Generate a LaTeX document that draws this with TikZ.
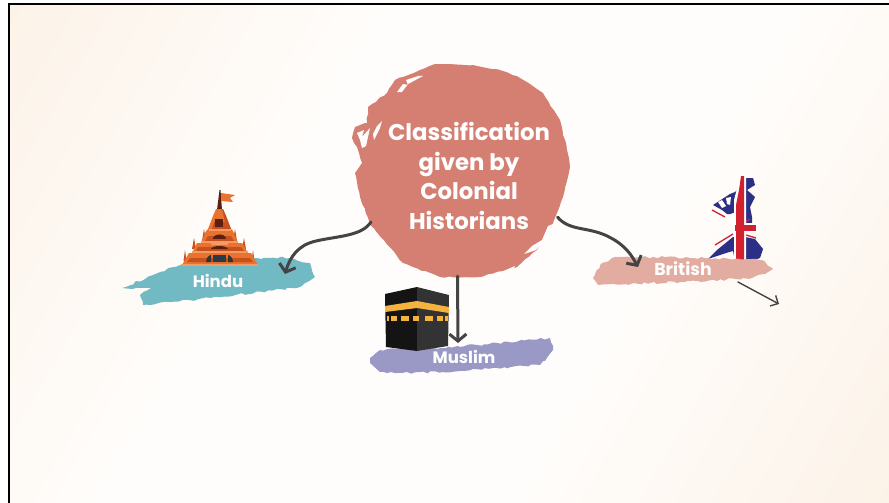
\documentclass[tikz,border=0pt]{standalone}
\usepackage{fontspec}
\setmainfont{Poppins}
\usetikzlibrary{arrows.meta,decorations.pathmorphing}
\definecolor{peach}{HTML}{FBF0E3}
\definecolor{paper}{HTML}{FFFDFB}
\definecolor{rosec}{HTML}{D57F73}
\definecolor{tealb}{HTML}{72BAC3}
\definecolor{lilacb}{HTML}{9A99C6}
\definecolor{pinkb}{HTML}{E3ACA0}
\definecolor{ink}{HTML}{444444}
\definecolor{tor}{HTML}{E9722F}
\definecolor{tdk}{HTML}{C4511E}
\definecolor{tlt}{HTML}{F59A62}
\definecolor{tbr}{HTML}{5A1F10}
\definecolor{tgy}{HTML}{2A3A48}
\definecolor{gold}{HTML}{F4B33F}
\definecolor{ukb}{HTML}{2B2F86}
\definecolor{ukr}{HTML}{D2202F}
\pgfdeclareverticalshading{bgs}{100bp}{color(0bp)=(peach); color(10bp)=(peach); color(38bp)=(paper); color(62bp)=(paper); color(90bp)=(peach); color(100bp)=(peach)}
\tikzset{
  lbl/.style={text=white,font=\bfseries,inner sep=0pt},
  brush/.style={decorate,decoration={random steps,segment length=4pt,amplitude=1.2pt}},
  soft brush/.style={decorate,decoration={random steps,segment length=5pt,amplitude=0.7pt}},
  conn/.style={draw=ink,line width=3pt,line cap=round,-{Straight Barb[length=7pt,width=17pt,line width=3pt]}},
  thin conn/.style={draw=ink,line width=1.4pt,line cap=round,-{Straight Barb[length=6pt,width=12pt,line width=1.4pt]}}
}
\begin{document}
\begin{tikzpicture}[x=1pt,y=-1pt]
\useasboundingbox (0,0) rectangle (889,503);
\fill[white] (0,0) rectangle (889,503);
% background
\shade[shading=bgs,shading angle=60] (9,4) rectangle (889,503);
\draw[black,line width=1.6pt] (9,503) -- (9,4) -- (889,4);
% main blob
\fill[rosec,soft brush] (435,64) -- (473,65) -- (503,71) -- (520,78) -- (543,93) -- (560,120) -- (567,150) -- (570,167) -- (563,197) -- (557,213) -- (553,223) -- (537,250) -- (517,267) -- (480,277) -- (440,277) -- (403,263) -- (372,227) -- (360,197) -- (355,173) -- (362,163) -- (357,147) -- (352,138) -- (355,127) -- (367,123) -- (368,107) -- (387,93) -- (395,80) -- (420,70) -- cycle;
\fill[paper] (397,92) -- (403,84) -- (408,85) -- (406,80) -- (418,76) -- (423,76) -- (408,84) -- (402,92) -- cycle;
\fill[paper] (382,121) -- (380,128) -- (374,140) -- (373,134) -- (377,126) -- cycle;
\fill[paper] (357,133) -- (364,130) -- (362,137) -- (370,128) -- (366,146) -- (362,148) -- (360,140) -- cycle;
\fill[paper] (548,226) -- (553,224) -- (545,240) -- (536,250) -- (524,254) -- (532,246) -- (542,240) -- cycle;
\fill[paper] (501,272) -- (515,266) -- (512,272) -- cycle;
\node[circle,minimum size=210pt,inner sep=0pt] (hub) at (463,171) {};
\node[lbl,align=center,font=\bfseries\fontsize{22.8}{29.5}\selectfont] (title) at (469,176) {Classification\\given by\\Colonial\\Historians};
% British map
\fill[ukb] (744,178) -- (753,178) -- (755,185) -- (747,190) -- (755,197) -- (750,207) -- (752,217) -- (752,225) -- (735,225) -- (735,192) -- (742,185) -- cycle;
\fill[ukb] (713,205) -- (730,194) -- (735,192) -- (735,215) -- (727,214) -- (722,210) -- cycle;
\fill[ukb] (733,237) -- (745,237) -- (755,239) -- (763,249) -- (760,258) -- (745,263) -- (735,261) -- (733,251) -- (726,253) -- (708,259) -- (717,250) -- cycle;
\fill[white] (718,202) -- (722,200) -- (726,206) -- (722,208) -- cycle;
\fill[white] (726,198) -- (731,197) -- (730,205) -- (727,204) -- cycle;
\fill[white] (728,215) -- (736,212) -- (736,225) -- (730,226) -- cycle;
\draw[ukr,line width=1.3pt] (712,210) -- (725,217);
\draw[ukr,line width=1.3pt] (715,245) -- (733,234);
\draw[ukr,line width=1.3pt] (745,222) -- (750,219);
\draw[ukr,line width=1.3pt] (746,235) -- (756,238);
\fill[white] (740,177) -- (746,177) -- (746,263) -- (734,263) -- (734,200) -- cycle;
\fill[white] (733,223) rectangle (757,233);
\fill[ukr] (741,176) -- (744,176) -- (744,263) -- (736,263) -- (736,205) -- (739,190) -- cycle;
\fill[ukr] (735,225) rectangle (756,231);
% brush strokes
\fill[tealb,brush] (122,288) -- (153,275) -- (180,265) -- (257,258) -- (283,257) -- (310,263) -- (315,277) -- (300,287) -- (210,298) -- (143,305) -- (140,295) -- (153,288) -- cycle;
\fill[lilacb,brush] (370,358) -- (380,350) -- (433,348) -- (477,345) -- (550,338) -- (553,350) -- (540,365) -- (493,368) -- (443,372) -- (403,373) -- (380,372) -- (370,363) -- cycle;
\fill[pinkb,brush] (593,278) -- (600,265) -- (612,258) -- (642,257) -- (708,258) -- (762,260) -- (773,269) -- (765,274) -- (752,278) -- (685,282) -- (598,285) -- cycle;
% temple
\fill[tbr] (219.5,190) -- (220.5,190) -- (222,210) -- (217,210) -- cycle;
\fill[tor] (221,193) -- (235,195) -- (230,198) -- (233,202) -- (221,201) -- cycle;
\fill[tdk] (185,250) -- (186.5,261) -- (183.5,261) -- cycle;
\fill[tdk] (194,238) -- (196,249) -- (192,249) -- cycle;
\fill[tdk] (204,229) -- (206,241) -- (202,241) -- cycle;
\fill[tdk] (235,229) -- (237,241) -- (233,241) -- cycle;
\fill[tdk] (244,238) -- (246,249) -- (242,249) -- cycle;
\fill[tdk] (253,250) -- (254.5,261) -- (251.5,261) -- cycle;
\fill[tor] (216,209) -- (223,209) -- (226,216) -- (231,229) -- (233,231) -- (238,243) -- (242,243) -- (248,253) -- (251,253) -- (258,265) -- (182,265) -- (189,253) -- (192,253) -- (197,243) -- (201,243) -- (206,231) -- (208,229) -- (213,216) -- cycle;
\fill[tdk] (222,209) -- (223,209) -- (226,216) -- (231,229) -- (212,229) -- (214,222) -- (225,222) -- cycle;
\fill[tdk] (208,236) -- (231,236) -- (234,241) -- (205,241) -- cycle;
\fill[tdk] (198,247) -- (241,247) -- (244,251) -- (196,251) -- cycle;
\fill[tdk] (190,258) -- (250,258) -- (253,262) -- (187,262) -- cycle;
\fill[tlt] (209,229) rectangle (231,231);
\fill[tlt] (201,241) rectangle (238,243);
\fill[tlt] (192,251) rectangle (248,253);
\fill[tlt] (181,264) rectangle (258,266);
\fill[tlt] (211,241) rectangle (228,245);
\fill[tbr] (215,219) rectangle (223,227);
\fill[tbr] (213,239) .. controls (213,233) and (226,233) .. (226,239) -- cycle;
\fill[tbr] (211,249) .. controls (213,245) and (226,245) .. (228,249) -- cycle;
\fill[tgy] (213,254.5) rectangle (226,262);
\fill[black!80] (206,262) .. controls (206,257) and (210,255) .. (211,255) -- (211,262) -- cycle;
\fill[black!80] (233,262) .. controls (233,257) and (229,255) .. (228,255) -- (228,262) -- cycle;
% Kaaba
\fill[black!92] (385,294) -- (417,287) -- (417,351) -- (386,347) -- cycle;
\fill[black!80] (417,287) -- (449,295) -- (448,346) -- (417,351) -- cycle;
\fill[gold] (385,306) -- (417,301) -- (449,307) -- (449,313) -- (417,308) -- (385,312) -- cycle;
\foreach \a/\b in {387/389,391/397,401/409,413/419,425/433,437/443,445/448}
  \fill[gold] (\a,316) rectangle (\b,321);
% labels
\node[lbl,font=\bfseries\fontsize{16.5}{18}\selectfont] (hindu) at (218,281) {Hindu};
\node[lbl,font=\bfseries\fontsize{16.5}{18}\selectfont] (muslim) at (464,357) {Muslim};
\node[lbl,font=\bfseries\fontsize{17.3}{18}\selectfont] (british) at (683,269) {British};
% connectors
\coordinate (ht) at (285,274);
\coordinate (mt) at (458,343);
\coordinate (bt) at (638,267);
\coordinate (ft) at (779,304);
\coordinate (fs) at (738,282);
\draw[conn] (hub.209) .. controls (362,236) and (338,236) .. (316,241) .. controls (298,245) and (290,257) .. (ht);
\draw[conn] (hub.-93) -- (mt);
\draw[conn] (hub.-26) .. controls (570,232) and (590,226) .. (611,238) .. controls (626,246) and (632,256) .. (bt);
\draw[thin conn] (fs) -- (ft);
\end{tikzpicture}
\end{document}
